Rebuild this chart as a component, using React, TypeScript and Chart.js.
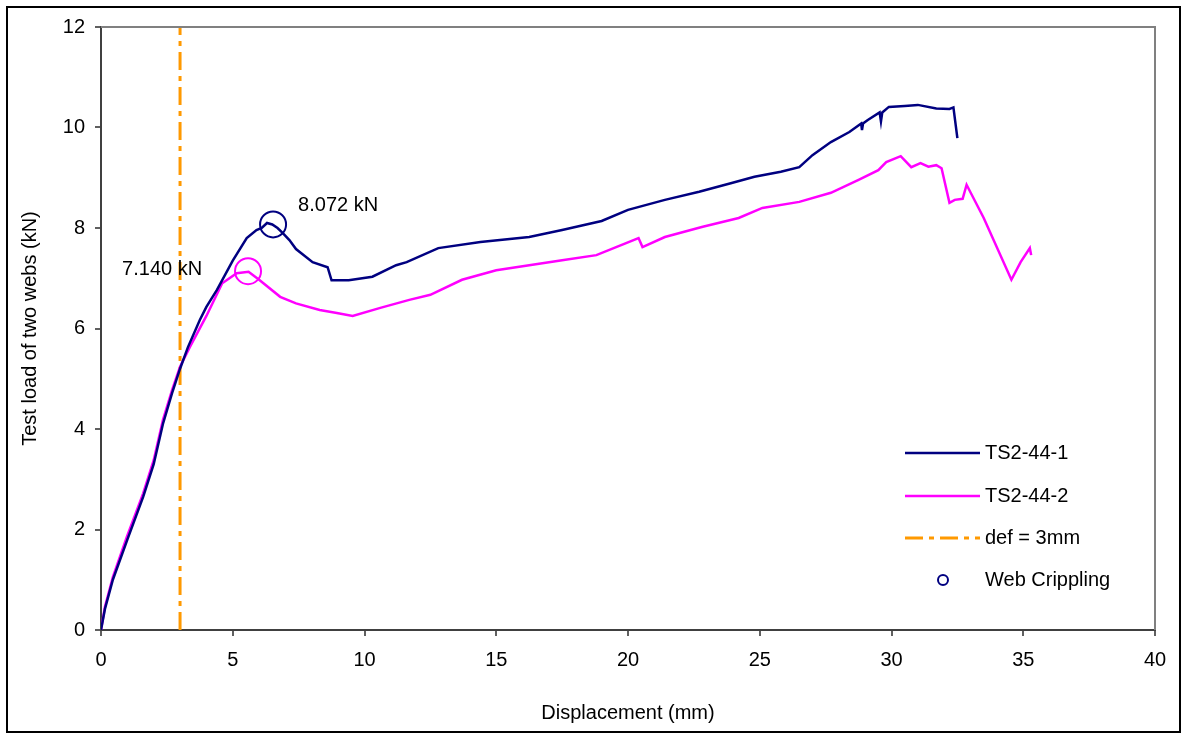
import React, { useEffect, useRef } from "react";
import { Chart, registerables } from "chart.js";
Chart.register(...registerables);

// TS2-44-1 (navy)
const blueX = [0, 0.15, 0.45, 1.0, 1.6, 2.0, 2.35, 2.7, 3.0, 3.3, 3.75, 4.0, 4.4, 5.0, 5.53, 5.9, 6.1, 6.3, 6.5, 6.7, 6.9, 7.15, 7.4, 8.03, 8.6, 8.75, 9.2, 9.4, 10.3, 11.2, 11.6, 12.8, 14.4, 16.25, 17.5, 19.0, 20.0, 21.4, 22.7, 23.9, 24.8, 25.8, 26.5, 27.0, 27.7, 28.4, 28.85, 28.88, 28.92, 29.1, 29.55, 29.6, 29.65, 29.9, 30.5, 31.0, 31.7, 32.2, 32.35, 32.5];
const blueY = [0, 0.42, 1.0, 1.8, 2.65, 3.3, 4.1, 4.72, 5.2, 5.63, 6.17, 6.43, 6.77, 7.35, 7.8, 7.96, 8.0, 8.1, 8.07, 8.0, 7.9, 7.76, 7.58, 7.32, 7.22, 6.96, 6.96, 6.96, 7.03, 7.26, 7.32, 7.6, 7.72, 7.82, 7.96, 8.14, 8.36, 8.56, 8.72, 8.89, 9.02, 9.12, 9.21, 9.45, 9.71, 9.91, 10.08, 9.95, 10.08, 10.15, 10.3, 10.12, 10.3, 10.41, 10.43, 10.45, 10.38, 10.37, 10.4, 9.79];

// TS2-44-2 (magenta)
const pinkX = [0, 0.15, 0.45, 0.98, 1.6, 2.0, 2.35, 2.7, 3.0, 3.37, 4.0, 4.6, 5.15, 5.6, 6.0, 6.8, 7.4, 8.3, 8.95, 9.55, 10.6, 11.7, 12.5, 13.7, 15.0, 16.25, 17.5, 18.8, 20.4, 20.55, 21.4, 22.8, 24.2, 25.1, 26.5, 27.7, 28.75, 29.5, 29.8, 30.35, 30.75, 31.1, 31.4, 31.7, 31.9, 32.2, 32.4, 32.7, 32.85, 33.5, 34.55, 34.9, 35.25, 35.3];
const pinkY = [0, 0.46, 1.05, 1.85, 2.72, 3.38, 4.18, 4.78, 5.24, 5.63, 6.25, 6.9, 7.1, 7.13, 6.97, 6.63, 6.5, 6.37, 6.31, 6.25, 6.41, 6.57, 6.67, 6.97, 7.16, 7.26, 7.36, 7.46, 7.8, 7.62, 7.82, 8.02, 8.2, 8.4, 8.52, 8.7, 8.96, 9.15, 9.31, 9.43, 9.21, 9.29, 9.22, 9.25, 9.19, 8.5, 8.56, 8.58, 8.86, 8.2, 6.97, 7.32, 7.6, 7.46];

// def = 3mm line
const defX = [3, 3];
const defY = [0, 12];

// Web crippling points
const crippX1 = [6.53];
const crippY1 = [8.072];
const crippX2 = [5.58];
const crippY2 = [7.14];

const xTicks = [0, 5, 10, 15, 20, 25, 30, 35, 40];
const yTicks = [0, 2, 4, 6, 8, 10, 12];

const annotTexts = ["8.072 kN", "7.140 kN"];
const annotX = [7.48, 0.8];
const annotY = [8.44, 7.18];

const legendLabels = ["TS2-44-1", "TS2-44-2", "def = 3mm", "Web Crippling"];

const NAVY = "#000080";
const PINK = "#FF00FF";
const ORANGE = "#FF9900";
const FONT = "'Liberation Sans', Arial, sans-serif";

const pts = (xs: number[], ys: number[]) => xs.map((x, i) => ({ x, y: ys[i] }));

export default function App() {
  const ref = useRef<HTMLCanvasElement>(null);
  useEffect(() => {
    const canvas = ref.current!;
    const framePlugin = {
      id: "framePlugin",
      afterDraw(chart: any) {
        const { ctx, chartArea: a, scales } = chart;
        ctx.save();
        ctx.strokeStyle = "#808080";
        ctx.lineWidth = 2;
        ctx.beginPath();
        ctx.moveTo(a.left, a.top);
        ctx.lineTo(a.right, a.top);
        ctx.lineTo(a.right, a.bottom);
        ctx.stroke();
        ctx.strokeStyle = "#000";
        ctx.lineWidth = 2;
        ctx.strokeRect(7, 7, 1173, 725);
        ctx.fillStyle = "#000";
        ctx.font = `20px ${FONT}`;
        ctx.textBaseline = "middle";
        ctx.textAlign = "left";
        annotTexts.forEach((t, i) => {
          ctx.fillText(t, scales.x.getPixelForValue(annotX[i]), scales.y.getPixelForValue(annotY[i]));
        });
        const lx0 = 905, lx1 = 980, tx = 985;
        const ly = [453, 496, 538, 580];
        ctx.lineWidth = 2.5;
        ctx.setLineDash([]);
        ctx.strokeStyle = NAVY;
        ctx.beginPath(); ctx.moveTo(lx0, ly[0]); ctx.lineTo(lx1, ly[0]); ctx.stroke();
        ctx.strokeStyle = PINK;
        ctx.beginPath(); ctx.moveTo(lx0, ly[1]); ctx.lineTo(lx1, ly[1]); ctx.stroke();
        ctx.strokeStyle = ORANGE;
        ctx.lineWidth = 3;
        ctx.setLineDash([18, 6, 5, 6]);
        ctx.beginPath(); ctx.moveTo(lx0, ly[2]); ctx.lineTo(lx1, ly[2]); ctx.stroke();
        ctx.setLineDash([]);
        ctx.lineWidth = 2;
        ctx.strokeStyle = NAVY;
        ctx.beginPath(); ctx.arc(943, ly[3], 5, 0, Math.PI * 2); ctx.stroke();
        ctx.fillStyle = "#000";
        legendLabels.forEach((t, i) => ctx.fillText(t, tx, ly[i]));
        ctx.restore();
      },
    };

    const chart = new Chart(canvas, {
      type: "line",
      data: {
        datasets: [
          {
            label: "def = 3mm",
            data: pts(defX, defY),
            borderColor: ORANGE,
            borderWidth: 3,
            borderDash: [18, 6, 5, 6],
            pointRadius: 0,
            order: 3,
          },
          {
            label: "TS2-44-2",
            data: pts(pinkX, pinkY),
            borderColor: PINK,
            borderWidth: 2.5,
            pointRadius: 0,
            tension: 0,
            order: 2,
          },
          {
            label: "TS2-44-1",
            data: pts(blueX, blueY),
            borderColor: NAVY,
            borderWidth: 2.5,
            pointRadius: 0,
            tension: 0,
            order: 1,
          },
          {
            label: "Web Crippling 1",
            data: pts(crippX1, crippY1),
            showLine: false,
            pointRadius: 13,
            pointBorderWidth: 2,
            pointBorderColor: NAVY,
            pointBackgroundColor: "rgba(0,0,0,0)",
            order: 0,
          },
          {
            label: "Web Crippling 2",
            data: pts(crippX2, crippY2),
            showLine: false,
            pointRadius: 13,
            pointBorderWidth: 2,
            pointBorderColor: PINK,
            pointBackgroundColor: "rgba(0,0,0,0)",
            order: 0,
          },
        ],
      },
      options: {
        responsive: false,
        animation: false,
        devicePixelRatio: 1,
        layout: { padding: { left: 8, top: 27, right: 30, bottom: 8 } },
        plugins: { legend: { display: false }, tooltip: { enabled: false } },
        scales: {
          x: {
            type: "linear",
            min: 0,
            max: 40,
            afterBuildTicks: (s: any) => { s.ticks = xTicks.map((v) => ({ value: v })); },
            afterFit: (s: any) => { s.height = 95; },
            ticks: { color: "#000", font: { family: FONT, size: 20 }, padding: 12, maxRotation: 0 },
            grid: { drawOnChartArea: false, drawTicks: true, tickLength: 6, color: "#606060", lineWidth: 2 },
            border: { display: true, color: "#404040", width: 2 },
            title: { display: true, text: "Displacement (mm)", color: "#000", font: { family: FONT, size: 20 }, padding: { top: 0, bottom: 0 } },
          },
          y: {
            type: "linear",
            min: 0,
            max: 12,
            afterBuildTicks: (s: any) => { s.ticks = yTicks.map((v) => ({ value: v })); },
            afterFit: (s: any) => { s.width = 93; },
            ticks: { color: "#000", font: { family: FONT, size: 20 }, padding: 10 },
            grid: { drawOnChartArea: false, drawTicks: true, tickLength: 6, color: "#606060", lineWidth: 2 },
            border: { display: true, color: "#404040", width: 2 },
            title: { display: true, text: "Test load of two webs (kN)", color: "#000", font: { family: FONT, size: 20 }, padding: { top: 10, bottom: 0 } },
          },
        },
      },
      plugins: [framePlugin],
    } as any);
    return () => chart.destroy();
  }, []);
  return (
    <div style={{ position: "absolute", left: 0, top: 0, width: 1185, height: 733 }}>
      <canvas ref={ref} width={1185} height={733} style={{ display: "block", width: 1185, height: 733 }} />
    </div>
  );
}
